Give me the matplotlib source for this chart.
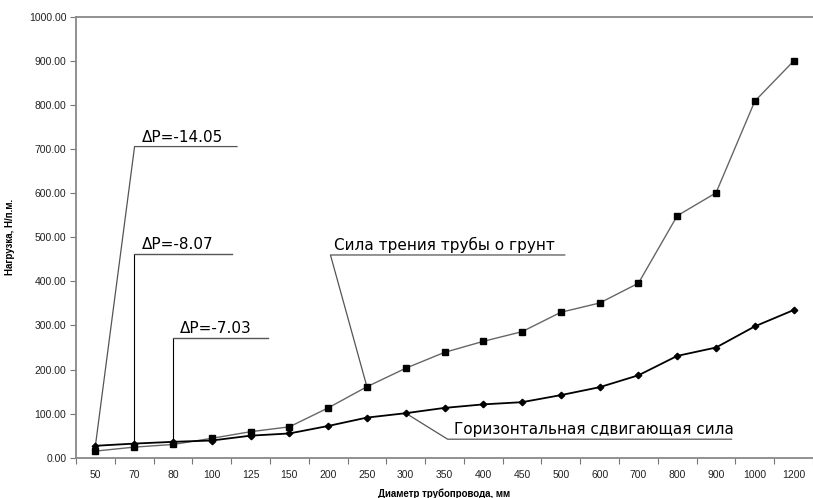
import matplotlib
matplotlib.use("Agg")
import matplotlib.pyplot as plt
from matplotlib.ticker import FixedLocator, FormatStrFormatter

diameters = ["50", "70", "80", "100", "125", "150", "200", "250", "300", "350",
             "400", "450", "500", "600", "700", "800", "900", "1000", "1200"]
friction = [15, 24, 30, 44, 59, 70, 113, 161, 203, 239,
            264, 286, 330, 351, 396, 549, 601, 809, 900]
shear = [27, 32, 36, 39, 50, 55, 72, 91, 101, 113,
         121, 126, 142, 160, 187, 231, 250, 298, 335]
dp_labels = ["\u0394P=-14.05", "\u0394P=-8.07", "\u0394P=-7.03"]

note_font = ["Liberation Sans Narrow", "DejaVu Sans"]
tick_font = ["Liberation Sans", "DejaVu Sans"]

fig = plt.figure(figsize=(8.13, 4.98), dpi=100)
ax = fig.add_axes([76 / 813, 1 - 457.7 / 498, 1 - 76 / 813, (457.7 - 17) / 498])

x = list(range(len(diameters)))
ax.plot(x, friction, color="#666666", lw=1.0, marker="s", ms=4.3,
        mfc="black", mec="black", zorder=3)
ax.plot(x, shear, color="black", lw=1.3, marker="D", ms=3.3,
        mfc="black", mec="black", zorder=4)

ax.set_xlim(-0.5, len(diameters) - 0.5)
ax.set_ylim(0, 1000)
ax.set_yticks(range(0, 1001, 100))
ax.yaxis.set_major_formatter(FormatStrFormatter("%.2f"))

# category axis: ticks between categories, labels at the centres
ax.xaxis.set_major_locator(FixedLocator([i - 0.5 for i in range(len(diameters) + 1)]))
ax.xaxis.set_minor_locator(FixedLocator(x))
ax.set_xticklabels([])
ax.set_xticklabels(diameters, minor=True)
ax.tick_params(axis="x", which="major", length=4, color="#777777", labelbottom=False)
ax.tick_params(axis="x", which="minor", length=0, pad=9)
ax.tick_params(axis="y", length=4, color="#777777", pad=3)
for lab in ax.get_xticklabels(minor=True) + ax.get_yticklabels():
    lab.set_fontfamily(tick_font)
    lab.set_fontsize(7.5)
    lab.set_color("#222222")

for side in ["left", "bottom", "top"]:
    ax.spines[side].set_color("#888888")
    ax.spines[side].set_linewidth(1.3)
ax.spines["right"].set_visible(False)

ax.set_ylabel("Нагрузка, Н/п.м.", fontsize=7, fontweight="bold",
              fontfamily=tick_font, labelpad=10)
ax.set_xlabel("Диаметр трубопровода, мм", fontsize=7, fontweight="bold",
              fontfamily=tick_font, labelpad=6)

lc = "#555555"
fs = 11
# ΔP annotations
ax.plot([0, 1.01, 3.65], [shear[0], 706, 706], color=lc, lw=0.9, clip_on=False)
ax.text(1.2, 710, dp_labels[0], fontsize=fs, fontfamily=note_font, va="bottom")
ax.plot([1, 1, 3.52], [shear[1], 462, 462], color="black", lw=0.8)
ax.plot([1, 3.52], [462, 462], color=lc, lw=0.9)
ax.text(1.2, 466, dp_labels[1], fontsize=fs, fontfamily=note_font, va="bottom")
ax.plot([2, 2, 4.44], [shear[2], 272, 272], color="black", lw=0.8)
ax.plot([2, 4.44], [272, 272], color=lc, lw=0.9)
ax.text(2.18, 276, dp_labels[2], fontsize=fs, fontfamily=note_font, va="bottom")

# series labels
ax.plot([7, 6.06, 12.1], [friction[7], 460, 460], color=lc, lw=0.9)
ax.text(6.15, 464, "Сила трения трубы о грунт", fontsize=fs,
        fontfamily=note_font, va="bottom")
ax.plot([8, 9.08, 16.4], [shear[8], 42, 42], color=lc, lw=0.9)
ax.text(9.25, 46, "Горизонтальная сдвигающая сила", fontsize=fs,
        fontfamily=note_font, va="bottom")

fig.savefig("out.png", dpi=100)
